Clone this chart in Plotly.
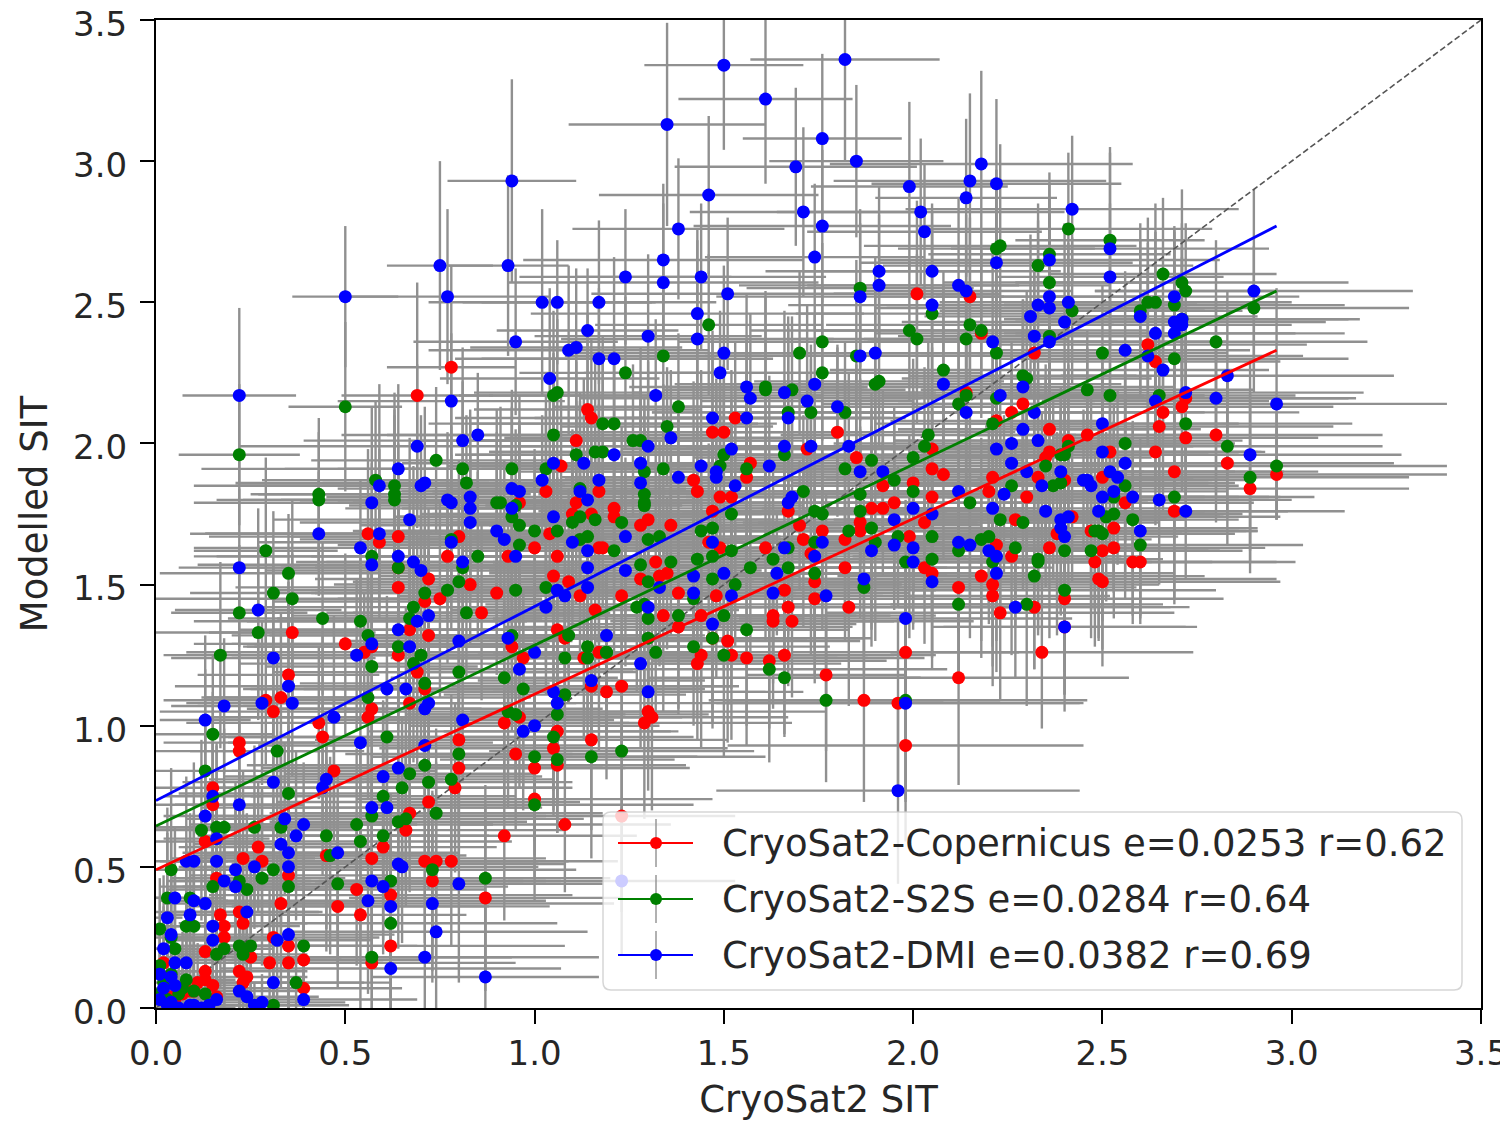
import plotly.graph_objects as go

x_red = [
0.56,0.59,0.64,0.80,0.77,0.64,0.96,1.04,1.00,0.93,
1.06,1.17,1.21,1.21,1.28,1.11,1.15,1.10,0.72,0.64,
0.83,0.90,0.75,0.71,0.86,1.05,1.09,1.12,1.16,1.23,
1.28,0.36,0.50,0.67,0.72,0.57,0.55,0.64,0.35,0.31,
0.33,0.29,0.69,0.71,0.67,0.57,0.56,0.44,0.43,0.94,
0.97,1.06,1.08,1.13,1.17,1.15,1.19,1.23,1.29,1.30,
0.92,0.96,1.06,1.05,1.15,0.95,1.00,1.06,0.22,0.22,
0.80,0.80,0.79,0.47,0.15,0.15,0.72,0.67,1.00,1.08,
0.92,0.66,0.60,0.57,0.13,0.27,0.23,0.28,0.45,0.71,
0.74,0.78,0.73,0.62,0.53,0.33,0.87,0.48,0.54,0.17,
0.18,0.23,0.35,0.16,0.22,0.18,0.13,0.25,0.31,0.35,
0.30,0.35,0.39,0.62,0.57,0.13,0.02,0.22,0.23,0.15,
0.10,0.07,0.39,0.04,0.24,1.23,1.53,1.47,1.50,1.80,
2.14,2.26,2.29,2.36,2.22,1.85,1.57,1.56,1.42,1.43,
1.49,1.52,1.47,1.67,1.72,2.05,2.05,2.08,1.92,2.00,
1.95,1.89,1.92,2.05,2.03,1.86,1.86,1.82,1.99,1.76,
1.71,1.70,1.61,1.49,1.46,1.36,1.30,1.18,1.32,1.35,
1.33,1.38,1.48,1.73,1.82,1.74,1.66,1.74,1.83,1.67,
1.63,1.63,1.68,1.34,1.44,1.38,1.51,1.47,1.52,1.44,
1.43,1.56,1.62,1.66,1.31,1.77,1.87,1.96,1.98,1.98,
2.12,2.34,2.40,2.12,2.18,2.21,2.21,2.23,2.32,2.40,
2.03,2.05,2.26,2.22,2.36,2.27,2.38,2.42,2.30,2.20,
2.21,2.36,2.35,2.33,2.41,2.46,2.40,2.49,2.48,2.62,
2.64,2.32,2.72,2.71,2.66,2.65,2.72,2.80,2.64,2.52,
2.83,2.50,2.69,2.96,2.89,2.56,2.69,2.53,2.47,2.50,
2.53,2.58,2.60,2.50,0.78,0.69,2.01,2.15,2.18,1.14,
1.15,1.11,1.07,1.17,1.03,0.06,0.09,0.11,0.13,0.03,
0.05,0.16]
y_red = [
1.68,1.65,1.67,1.67,1.60,1.56,1.79,1.68,1.63,1.60,
1.60,1.63,1.77,1.74,1.71,1.79,1.75,1.75,1.52,1.49,
1.50,1.47,1.45,1.44,1.40,1.53,1.51,1.46,1.41,1.46,
1.52,1.33,1.29,1.34,1.32,1.28,1.26,1.25,1.18,1.05,
1.10,1.09,1.19,1.13,1.08,1.06,1.03,0.96,1.01,1.28,
1.24,1.34,1.31,1.24,1.26,1.14,1.12,1.14,1.01,1.05,
1.01,1.03,0.98,0.92,0.95,0.90,0.85,0.86,0.94,0.91,
0.95,0.85,0.78,0.84,0.78,0.72,0.73,0.69,0.74,0.65,
0.61,0.63,0.57,0.53,0.59,0.57,0.53,0.52,0.54,0.52,
0.52,0.52,0.45,0.40,0.42,0.37,0.39,0.36,0.33,0.33,
0.29,0.30,0.47,0.46,0.34,0.25,0.20,0.18,0.25,0.22,
0.16,0.16,0.17,0.22,0.16,0.13,0.16,0.13,0.09,0.08,
0.06,0.05,0.07,0.04,0.11,0.68,2.09,2.04,2.04,2.04,
2.18,2.11,2.14,2.05,2.08,1.95,1.93,1.88,1.87,1.83,
1.81,1.81,1.76,1.76,1.98,1.98,1.91,1.89,1.85,1.86,
1.79,1.77,1.77,1.81,1.72,1.72,1.69,1.66,1.67,1.69,
1.66,1.71,1.63,1.63,1.65,1.71,1.73,1.63,1.58,1.54,
1.53,1.47,1.46,1.61,1.56,1.51,1.48,1.45,1.42,1.42,
1.39,1.37,1.37,1.39,1.39,1.35,1.30,1.31,1.25,1.25,
1.22,1.24,1.23,1.25,1.03,1.18,1.09,1.08,0.93,1.26,
1.17,1.26,1.35,1.49,1.53,1.50,1.46,1.40,1.42,1.45,
1.56,1.54,1.60,1.64,1.63,1.73,1.68,1.74,1.81,1.83,
1.88,1.97,1.95,1.88,2.01,2.03,1.87,1.52,1.58,2.35,
2.29,2.32,2.16,2.13,2.11,2.06,2.02,2.03,1.97,1.97,
1.93,1.88,1.90,1.89,1.84,1.79,1.76,1.70,1.69,1.62,
1.63,1.58,1.58,1.51,2.27,2.17,2.53,2.52,2.39,2.12,
2.09,2.01,1.92,1.83,1.83,0.07,0.06,0.09,0.10,0.11,
0.03,0.04]
xerr_red = [
0.47,0.32,0.50,0.44,0.36,0.41,0.48,0.38,0.44,0.30,
0.42,0.35,0.46,0.28,0.40,0.33,0.45,0.37,0.30,0.43,
0.36,0.48,0.27,0.40,0.34,0.46,0.31,0.42,0.38,0.29,
0.44,0.22,0.30,0.36,0.42,0.33,0.47,0.28,0.24,0.30,
0.21,0.27,0.38,0.32,0.44,0.29,0.41,0.25,0.35,0.46,
0.30,0.40,0.34,0.45,0.28,0.37,0.42,0.31,0.39,0.47,
0.33,0.43,0.30,0.46,0.36,0.28,0.41,0.34,0.20,0.25,
0.38,0.44,0.31,0.27,0.18,0.22,0.40,0.33,0.47,0.28,
0.35,0.42,0.30,0.46,0.15,0.21,0.19,0.24,0.32,0.38,
0.27,0.44,0.30,0.48,0.34,0.23,0.36,0.40,0.28,0.14,
0.20,0.17,0.26,0.12,0.22,0.16,0.10,0.24,0.28,0.19,
0.30,0.21,0.33,0.46,0.38,0.11,0.05,0.18,0.14,0.09,
0.07,0.05,0.26,0.03,0.16,0.30,0.29,0.42,0.36,0.47,
0.38,0.45,0.33,0.40,0.28,0.43,0.35,0.48,0.31,0.44,
0.27,0.39,0.46,0.34,0.41,0.30,0.45,0.37,0.42,0.32,
0.47,0.29,0.40,0.36,0.44,0.31,0.46,0.38,0.28,0.43,
0.35,0.48,0.30,0.41,0.37,0.45,0.33,0.28,0.42,0.47,
0.36,0.31,0.44,0.39,0.46,0.34,0.40,0.29,0.45,0.37,
0.43,0.32,0.48,0.41,0.30,0.46,0.35,0.42,0.28,0.44,
0.38,0.47,0.31,0.40,0.36,0.21,0.36,0.48,0.47,0.30,
0.45,0.40,0.32,0.47,0.38,0.44,0.31,0.46,0.36,0.42,
0.34,0.48,0.29,0.43,0.37,0.45,0.33,0.40,0.47,0.30,
0.44,0.36,0.28,0.41,0.46,0.34,0.38,0.47,0.31,0.42,
0.33,0.30,0.45,0.40,0.36,0.46,0.35,0.44,0.27,0.41,
0.44,0.33,0.38,0.45,0.42,0.34,0.30,0.38,0.26,0.31,
0.40,0.43,0.36,0.47,0.17,0.20,0.22,0.25,0.28,0.30,
0.36,0.41,0.30,0.44,0.38,0.05,0.06,0.07,0.08,0.03,
0.04,0.09]
yerr_red = [
0.30,0.24,0.33,0.27,0.22,0.35,0.29,0.25,0.32,0.21,
0.28,0.34,0.26,0.31,0.23,0.36,0.27,0.30,0.25,0.33,
0.21,0.29,0.35,0.24,0.31,0.27,0.33,0.22,0.30,0.36,
0.25,0.28,0.32,0.24,0.30,0.35,0.21,0.27,0.33,0.26,
0.30,0.23,0.34,0.28,0.21,0.31,0.25,0.36,0.27,0.30,
0.24,0.33,0.22,0.29,0.35,0.26,0.31,0.23,0.34,0.28,
0.30,0.25,0.36,0.22,0.32,0.27,0.31,0.24,0.29,0.35,
0.26,0.33,0.30,0.25,0.34,0.22,0.31,0.28,0.36,0.24,
0.30,0.27,0.33,0.35,0.28,0.23,0.31,0.26,0.34,0.29,
0.35,0.30,0.32,0.36,0.27,0.30,0.33,0.29,0.35,0.26,
0.31,0.28,0.34,0.30,0.27,0.32,0.25,0.29,0.34,0.30,
0.26,0.31,0.28,0.35,0.30,0.24,0.20,0.27,0.22,0.18,
0.16,0.14,0.25,0.12,0.20,0.34,0.27,0.34,0.24,0.30,
0.36,0.25,0.31,0.28,0.21,0.33,0.26,0.30,0.35,0.23,
0.29,0.34,0.22,0.31,0.27,0.36,0.25,0.30,0.21,0.33,
0.28,0.35,0.24,0.31,0.26,0.34,0.22,0.29,0.36,0.27,
0.31,0.23,0.33,0.28,0.35,0.25,0.30,0.21,0.34,0.27,
0.32,0.24,0.29,0.36,0.26,0.33,0.22,0.30,0.35,0.28,
0.24,0.31,0.27,0.34,0.22,0.29,0.36,0.25,0.30,0.33,
0.27,0.31,0.24,0.28,0.33,0.27,0.36,0.30,0.34,0.31,
0.38,0.27,0.24,0.33,0.29,0.36,0.25,0.31,0.22,0.34,
0.27,0.30,0.35,0.24,0.32,0.28,0.36,0.23,0.31,0.26,
0.33,0.21,0.29,0.35,0.27,0.31,0.25,0.22,0.30,0.36,
0.27,0.33,0.24,0.30,0.35,0.28,0.22,0.31,0.26,0.34,
0.29,0.36,0.24,0.16,0.30,0.27,0.33,0.22,0.28,0.35,
0.25,0.22,0.19,0.30,0.36,0.40,0.33,0.28,0.30,0.34,
0.28,0.31,0.26,0.33,0.29,0.12,0.10,0.14,0.16,0.15,
0.08,0.09]

x_green = [
0.63,0.43,0.90,0.95,0.94,0.96,1.00,1.06,1.10,1.12,
1.16,1.23,1.29,1.14,1.12,1.21,0.96,0.85,0.78,0.29,
0.35,0.31,0.36,0.22,0.27,0.44,0.17,0.57,0.64,0.81,
0.54,0.56,0.57,0.64,0.70,0.68,0.71,0.68,0.67,0.77,
0.80,0.82,0.95,1.03,0.94,0.80,0.71,0.56,0.92,1.08,
1.09,1.14,1.14,1.19,0.97,1.08,1.06,0.95,0.93,1.05,
1.00,1.06,1.15,1.23,1.29,1.30,1.28,0.61,0.80,0.71,
0.67,0.72,0.78,0.65,0.60,0.57,0.32,0.15,0.13,0.35,
0.74,0.53,0.45,0.54,0.64,0.66,0.60,1.00,0.33,0.26,
0.18,0.16,0.12,0.04,0.73,0.62,0.87,0.48,0.46,0.31,
0.28,0.15,0.22,0.35,0.24,0.03,0.09,0.08,0.10,0.62,
0.57,0.39,0.25,0.23,0.22,0.16,0.18,0.05,0.04,0.01,
0.37,0.13,0.07,0.01,0.31,1.38,1.61,1.68,1.73,1.67,
1.90,1.82,1.18,1.21,1.35,1.28,1.29,1.34,1.18,1.50,
1.49,1.56,1.66,1.29,1.29,2.14,2.12,2.21,2.46,2.04,
2.03,2.00,1.89,1.82,1.95,2.00,1.86,1.86,1.89,1.71,
1.52,1.76,1.74,1.83,1.90,1.96,2.05,1.30,1.33,1.44,
1.47,1.52,1.47,1.43,1.36,1.47,1.53,1.57,1.63,1.67,
1.67,1.74,1.74,2.05,1.98,2.12,2.18,2.20,2.21,2.15,
2.26,2.23,2.29,2.27,2.37,2.39,2.35,2.40,2.40,2.47,
2.49,2.33,2.33,2.32,2.40,2.30,2.12,1.87,1.50,1.56,
1.30,1.27,1.38,1.42,1.47,1.42,1.50,1.32,1.19,1.30,
1.62,1.66,1.77,1.98,2.41,2.52,2.36,2.33,2.36,2.23,
2.66,2.71,2.72,2.62,2.64,2.69,2.90,2.60,2.42,2.71,
2.36,2.80,2.50,2.69,2.29,2.52,2.65,2.72,2.56,2.83,
2.41,2.39,2.96,2.89,2.69,2.56,2.53,2.53,2.51,2.58,
2.48,2.50,2.60,0.50,1.46,1.34,1.70,1.76,1.24,1.76,
1.91,1.61,1.86,2.05,1.99,2.01,2.15,2.14,2.18,2.22,
2.08,2.22,2.30,1.06,1.85,2.22,0.22,0.58,0.63,0.63,
0.74,0.81,0.82,0.43,1.11,1.05,1.16,1.03,1.12,0.94,
0.91,1.05,1.26,0.02,0.04,0.06,0.03,0.08,0.10,0.01]
y_green = [
1.80,1.80,1.79,1.78,1.74,1.71,1.69,1.69,1.72,1.74,
1.73,1.72,1.79,1.67,1.66,1.62,1.64,1.60,1.66,1.62,
1.54,1.47,1.45,1.40,1.33,1.38,1.25,1.60,1.56,1.56,
1.37,1.32,1.21,1.28,1.25,1.22,1.47,1.42,1.38,1.48,
1.51,1.40,1.48,1.49,1.32,1.19,1.15,1.10,1.17,1.24,
1.32,1.28,1.24,1.26,1.13,1.11,1.04,1.04,1.05,0.96,
0.89,0.88,0.89,0.91,1.43,1.51,1.57,0.96,0.90,0.86,
0.83,0.80,0.81,0.78,0.75,0.68,0.91,0.97,0.84,0.76,
0.69,0.65,0.61,0.59,0.66,0.67,0.61,0.72,0.64,0.64,
0.64,0.64,0.63,0.49,0.49,0.45,0.46,0.44,0.54,0.49,
0.46,0.43,0.45,0.43,0.42,0.39,0.39,0.29,0.29,0.30,
0.18,0.22,0.22,0.19,0.22,0.19,0.21,0.21,0.25,0.28,
0.09,0.05,0.07,0.05,0.01,2.13,2.19,2.19,2.11,2.11,
2.21,2.11,2.07,2.07,2.06,2.01,1.90,1.91,1.97,1.96,
1.92,1.91,1.96,1.82,1.78,2.17,2.14,2.07,2.19,2.03,
1.99,1.95,1.94,1.91,1.87,1.83,1.82,1.76,1.70,1.83,
1.75,1.75,1.76,1.69,1.65,1.67,1.67,1.66,1.67,1.69,
1.70,1.62,1.60,1.59,1.58,1.52,1.50,1.56,1.59,1.63,
1.56,1.65,1.54,1.59,1.58,1.62,1.66,1.67,1.58,1.79,
1.85,1.73,1.72,1.63,1.85,1.86,1.92,1.96,1.62,1.62,
1.69,1.59,1.58,1.53,1.48,1.43,1.43,1.49,1.39,1.34,
1.38,1.42,1.39,1.45,1.31,1.28,1.25,1.26,1.26,1.31,
1.20,1.17,1.09,1.09,2.76,2.72,2.67,2.63,2.57,2.70,
2.60,2.57,2.54,2.50,2.50,2.49,2.48,2.47,2.47,2.44,
2.38,2.36,2.32,2.30,2.24,2.17,2.17,2.07,2.00,1.99,
1.99,1.96,1.92,1.88,1.81,1.85,1.81,1.75,1.74,1.73,
1.69,1.68,1.64,2.13,2.42,2.31,2.32,2.36,2.25,2.25,
2.22,2.20,2.55,2.46,2.40,2.37,2.42,2.37,2.40,2.32,
2.26,2.16,2.23,2.18,2.31,2.69,1.96,1.87,1.85,1.82,
1.94,1.91,1.86,1.82,1.96,2.03,1.97,1.91,1.84,1.91,
1.79,2.17,2.01,0.09,0.12,0.05,0.03,0.10,0.06,0.15]
xerr_green = [
0.47,0.20,0.38,0.44,0.30,0.42,0.35,0.46,0.28,0.40,
0.33,0.45,0.37,0.30,0.43,0.36,0.48,0.27,0.40,0.19,
0.34,0.22,0.42,0.18,0.29,0.25,0.15,0.47,0.31,0.39,
0.44,0.36,0.28,0.41,0.34,0.46,0.30,0.40,0.35,0.45,
0.28,0.37,0.42,0.31,0.39,0.47,0.33,0.43,0.30,0.46,
0.36,0.28,0.41,0.34,0.48,0.32,0.40,0.29,0.45,0.37,
0.43,0.31,0.46,0.35,0.42,0.28,0.39,0.44,0.30,0.47,
0.33,0.38,0.27,0.41,0.35,0.46,0.23,0.16,0.14,0.29,
0.44,0.36,0.30,0.40,0.34,0.47,0.28,0.42,0.21,0.26,
0.18,0.16,0.13,0.06,0.38,0.45,0.33,0.30,0.36,0.24,
0.22,0.14,0.19,0.28,0.21,0.04,0.09,0.08,0.10,0.44,
0.37,0.30,0.20,0.17,0.16,0.11,0.13,0.05,0.05,0.02,
0.25,0.09,0.06,0.02,0.20,0.33,0.27,0.30,0.42,0.36,
0.44,0.31,0.46,0.38,0.28,0.43,0.35,0.48,0.30,0.41,
0.37,0.45,0.33,0.28,0.42,0.47,0.36,0.31,0.44,0.39,
0.46,0.34,0.40,0.29,0.45,0.37,0.43,0.32,0.48,0.41,
0.30,0.46,0.35,0.42,0.28,0.44,0.38,0.47,0.31,0.40,
0.36,0.45,0.33,0.28,0.47,0.38,0.44,0.31,0.46,0.36,
0.42,0.34,0.48,0.29,0.43,0.37,0.45,0.33,0.40,0.47,
0.30,0.44,0.36,0.28,0.41,0.46,0.34,0.38,0.47,0.31,
0.42,0.33,0.30,0.45,0.40,0.36,0.46,0.35,0.44,0.27,
0.41,0.33,0.47,0.31,0.40,0.36,0.45,0.33,0.28,0.42,
0.47,0.36,0.31,0.48,0.38,0.25,0.32,0.41,0.28,0.36,
0.30,0.44,0.24,0.38,0.32,0.45,0.41,0.27,0.35,0.47,
0.28,0.40,0.33,0.46,0.30,0.25,0.36,0.44,0.29,0.41,
0.33,0.47,0.45,0.42,0.37,0.30,0.44,0.34,0.46,0.28,
0.40,0.35,0.43,0.15,0.30,0.26,0.34,0.38,0.28,0.42,
0.33,0.27,0.30,0.36,0.42,0.31,0.38,0.27,0.44,0.35,
0.30,0.40,0.33,0.22,0.37,0.26,0.16,0.30,0.42,0.36,
0.33,0.47,0.38,0.18,0.32,0.44,0.28,0.40,0.35,0.46,
0.30,0.25,0.41,0.03,0.04,0.05,0.03,0.07,0.08,0.02]
yerr_green = [
0.30,0.24,0.33,0.27,0.22,0.35,0.29,0.25,0.32,0.21,
0.28,0.34,0.26,0.31,0.23,0.36,0.27,0.30,0.25,0.33,
0.21,0.29,0.35,0.24,0.31,0.27,0.33,0.22,0.30,0.36,
0.25,0.28,0.32,0.24,0.30,0.35,0.21,0.27,0.33,0.26,
0.30,0.23,0.34,0.28,0.21,0.31,0.25,0.36,0.27,0.30,
0.24,0.33,0.22,0.29,0.35,0.26,0.31,0.23,0.34,0.28,
0.30,0.25,0.36,0.22,0.32,0.27,0.31,0.24,0.29,0.35,
0.26,0.33,0.30,0.25,0.34,0.22,0.31,0.28,0.36,0.24,
0.30,0.27,0.33,0.35,0.28,0.23,0.31,0.26,0.34,0.29,
0.35,0.30,0.32,0.36,0.27,0.30,0.33,0.29,0.35,0.26,
0.31,0.28,0.34,0.30,0.27,0.32,0.25,0.29,0.24,0.30,
0.26,0.31,0.28,0.25,0.30,0.24,0.20,0.27,0.22,0.18,
0.16,0.14,0.20,0.12,0.10,0.26,0.33,0.26,0.24,0.30,
0.36,0.25,0.31,0.28,0.21,0.33,0.26,0.30,0.35,0.23,
0.29,0.34,0.22,0.31,0.27,0.36,0.25,0.30,0.21,0.33,
0.28,0.35,0.24,0.31,0.26,0.34,0.22,0.29,0.36,0.27,
0.31,0.23,0.33,0.28,0.35,0.25,0.30,0.21,0.34,0.27,
0.32,0.24,0.29,0.36,0.26,0.33,0.22,0.30,0.35,0.28,
0.24,0.31,0.27,0.34,0.22,0.29,0.36,0.25,0.30,0.33,
0.27,0.31,0.24,0.28,0.33,0.27,0.36,0.30,0.34,0.31,
0.38,0.27,0.24,0.33,0.29,0.36,0.25,0.31,0.22,0.34,
0.27,0.30,0.35,0.24,0.32,0.28,0.36,0.23,0.31,0.26,
0.33,0.21,0.29,0.35,0.27,0.31,0.25,0.22,0.30,0.36,
0.27,0.33,0.24,0.30,0.35,0.28,0.22,0.31,0.26,0.34,
0.29,0.36,0.24,0.30,0.27,0.33,0.22,0.28,0.35,0.25,
0.31,0.22,0.19,0.30,0.36,0.40,0.33,0.28,0.30,0.34,
0.28,0.31,0.26,0.30,0.25,0.33,0.29,0.35,0.27,0.31,
0.23,0.34,0.28,0.36,0.25,0.30,0.21,0.33,0.27,0.29,
0.35,0.24,0.31,0.26,0.34,0.22,0.25,0.28,0.33,0.30,
0.26,0.31,0.24,0.27,0.33,0.29,0.35,0.26,0.31,0.28,
0.34,0.30,0.27,0.10,0.14,0.08,0.06,0.12,0.09,0.15]

x_blue = [
1.50,1.82,1.61,1.35,1.76,1.69,1.85,0.94,1.46,1.71,
1.76,1.38,1.99,2.02,2.03,2.15,2.14,2.18,2.22,2.42,
1.74,1.34,0.93,0.75,1.44,1.24,1.34,1.91,1.91,0.77,
0.50,1.51,1.02,1.06,1.17,1.43,2.05,2.12,2.14,2.22,
2.52,2.52,2.36,2.69,2.90,2.05,2.33,2.36,2.36,2.41,
2.31,2.40,2.32,2.36,2.60,2.69,2.71,2.71,2.64,2.69,
2.56,2.62,2.66,2.83,2.80,2.72,2.64,2.96,2.50,2.50,
2.56,2.89,2.46,2.52,2.54,2.53,2.50,2.58,2.65,2.72,
2.60,1.14,1.30,1.43,0.95,1.50,1.86,1.90,1.11,1.09,
1.17,1.21,1.49,1.04,1.32,0.22,0.78,1.66,2.21,1.86,
1.56,1.57,1.74,1.72,1.80,1.47,1.56,1.67,1.36,1.30,
1.28,1.28,1.21,1.52,1.66,1.73,1.83,1.44,1.48,1.48,
1.38,1.62,1.53,1.67,1.68,1.86,1.92,2.08,2.23,2.29,
2.14,2.32,2.29,2.22,2.26,2.33,2.26,2.30,2.39,2.34,
2.12,2.24,2.21,2.00,1.95,2.05,2.35,2.39,2.41,2.39,
2.40,2.45,2.47,2.49,2.12,2.15,2.20,2.22,2.22,1.95,
2.00,1.89,2.00,2.05,1.87,1.77,2.27,2.40,1.98,1.96,
1.98,1.24,1.47,1.66,1.76,1.74,1.24,1.64,1.50,1.42,
1.33,1.42,1.63,1.52,1.30,1.47,1.19,1.28,1.30,1.23,
0.57,0.78,0.83,0.83,0.67,0.94,1.05,1.14,0.43,0.59,
0.90,0.92,0.54,0.78,0.64,0.68,0.70,0.81,0.57,0.95,
1.10,1.14,1.14,0.22,0.27,0.31,0.35,0.36,0.28,0.18,
0.13,0.64,0.72,0.69,0.80,0.93,0.57,0.53,0.67,1.06,
1.08,1.03,1.14,1.00,0.96,0.61,0.66,0.47,0.71,0.72,
0.81,0.54,0.71,1.15,1.05,1.06,1.00,0.97,0.64,0.45,
0.44,0.60,0.31,0.15,0.22,0.13,0.34,0.61,0.57,0.39,
0.37,0.33,0.35,0.16,0.16,0.08,0.10,0.48,0.26,0.21,
0.35,0.18,0.21,0.57,0.60,0.64,0.65,0.56,0.62,0.73,
0.80,0.05,0.10,0.13,0.24,0.03,0.09,0.15,0.04,0.15,
0.32,0.35,0.74,0.71,0.02,0.05,0.08,0.62,0.87,0.04,
0.01,0.31,0.22,0.24,0.16,0.39,0.10,0.04,0.64,0.70,
0.71,0.81,0.85,0.69,0.59,0.77,0.83,0.94,0.96,1.05,
1.13,1.02,1.12,1.17,0.03,0.06,0.09,0.12,0.14,0.05,
0.01,0.02,0.26,0.28]
y_blue = [
3.34,3.36,3.22,3.13,3.08,2.98,3.00,2.93,2.88,2.82,
2.77,2.76,2.91,2.82,2.75,2.93,2.87,2.99,2.92,2.83,
2.66,2.65,2.63,2.63,2.59,2.59,2.57,2.61,2.56,2.52,
2.52,2.53,2.50,2.50,2.50,2.46,2.61,2.56,2.54,2.64,
2.69,2.59,2.65,2.52,2.54,2.49,2.49,2.52,2.48,2.50,
2.45,2.43,2.38,2.36,2.45,2.43,2.44,2.42,2.39,2.39,
2.33,2.31,2.26,2.24,2.16,2.18,2.15,2.14,2.07,1.97,
1.93,1.96,1.87,1.90,1.88,1.83,1.81,1.81,1.80,1.76,
1.69,2.40,2.38,2.37,2.36,2.32,2.31,2.32,2.34,2.33,
2.30,2.30,2.25,2.23,2.17,2.17,2.15,2.18,2.36,2.52,
2.20,2.16,2.21,2.15,2.13,2.09,2.09,2.09,2.02,1.99,
1.93,1.86,1.96,1.98,1.99,1.99,1.99,1.92,1.90,1.88,
1.88,1.92,1.85,1.79,1.81,1.90,1.90,2.21,2.17,2.20,
2.11,2.11,2.05,1.98,2.00,2.01,1.93,1.90,1.90,1.85,
1.83,1.82,1.77,1.77,1.73,1.75,1.76,1.73,1.74,1.70,
1.67,1.87,1.85,1.76,1.65,1.64,1.62,1.60,1.54,1.64,
1.63,1.62,1.58,1.51,1.52,1.46,1.42,1.35,1.38,0.77,
1.08,1.67,1.65,1.63,1.65,1.60,1.55,1.54,1.54,1.53,
1.49,1.47,1.47,1.46,1.42,1.36,1.32,1.22,1.12,0.45,
1.79,1.79,1.77,1.72,1.73,1.77,1.74,1.80,1.68,1.68,
1.69,1.66,1.63,1.65,1.60,1.58,1.55,1.58,1.57,1.60,
1.65,1.62,1.56,1.56,1.41,1.24,1.14,1.08,1.08,1.07,
1.02,1.34,1.39,1.37,1.30,1.31,1.29,1.25,1.28,1.48,
1.46,1.42,1.49,1.26,1.20,1.13,1.13,1.03,1.06,1.08,
1.02,0.94,0.93,1.16,1.12,1.08,1.00,0.98,0.85,0.81,
0.78,0.82,0.80,0.75,0.72,0.68,0.67,0.71,0.71,0.65,
0.61,0.58,0.55,0.60,0.52,0.52,0.52,0.55,0.50,0.49,
0.50,0.45,0.43,0.45,0.43,0.51,0.50,0.38,0.36,0.37,
0.44,0.39,0.38,0.37,0.34,0.32,0.33,0.29,0.26,0.24,
0.24,0.26,0.27,0.18,0.21,0.16,0.16,0.14,0.11,0.11,
0.12,0.09,0.06,0.04,0.03,0.03,0.01,0.02,1.91,1.85,
1.86,2.01,2.03,1.99,1.85,1.80,1.81,1.84,1.83,1.93,
1.93,1.87,1.83,1.87,0.01,0.00,0.01,0.00,0.01,0.08,
0.03,0.07,0.01,0.02]
xerr_blue = [
0.21,0.25,0.23,0.26,0.21,0.32,0.23,0.17,0.29,0.30,
0.34,0.28,0.26,0.38,0.31,0.36,0.24,0.40,0.33,0.44,
0.29,0.37,0.16,0.14,0.33,0.28,0.41,0.30,0.37,0.27,
0.14,0.36,0.30,0.25,0.31,0.44,0.34,0.40,0.28,0.36,
0.42,0.30,0.45,0.33,0.42,0.38,0.40,0.30,0.46,0.34,
0.28,0.43,0.36,0.47,0.31,0.40,0.44,0.29,0.37,0.45,
0.33,0.41,0.28,0.44,0.35,0.47,0.30,0.45,0.36,0.42,
0.29,0.40,0.33,0.46,0.37,0.30,0.44,0.28,0.35,0.42,
0.31,0.24,0.30,0.36,0.27,0.41,0.33,0.45,0.28,0.37,
0.31,0.42,0.36,0.29,0.44,0.15,0.30,0.40,0.33,0.38,
0.31,0.45,0.37,0.28,0.42,0.47,0.36,0.31,0.44,0.39,
0.46,0.34,0.40,0.29,0.45,0.37,0.43,0.32,0.48,0.41,
0.30,0.46,0.35,0.42,0.28,0.44,0.38,0.47,0.31,0.40,
0.36,0.45,0.33,0.28,0.47,0.38,0.44,0.31,0.46,0.36,
0.42,0.34,0.48,0.29,0.43,0.37,0.45,0.33,0.40,0.47,
0.30,0.44,0.36,0.28,0.41,0.46,0.34,0.38,0.47,0.31,
0.42,0.33,0.30,0.45,0.40,0.36,0.46,0.35,0.44,0.48,
0.47,0.41,0.33,0.47,0.31,0.40,0.36,0.45,0.33,0.28,
0.42,0.47,0.36,0.31,0.48,0.38,0.25,0.32,0.41,0.30,
0.47,0.40,0.33,0.45,0.36,0.29,0.42,0.34,0.30,0.46,
0.38,0.27,0.44,0.35,0.48,0.31,0.41,0.36,0.46,0.28,
0.43,0.33,0.39,0.16,0.22,0.27,0.30,0.25,0.20,0.14,
0.12,0.42,0.36,0.45,0.30,0.38,0.47,0.33,0.41,0.28,
0.44,0.35,0.40,0.46,0.30,0.36,0.43,0.33,0.47,0.28,
0.40,0.35,0.44,0.30,0.38,0.46,0.33,0.41,0.36,0.31,
0.28,0.42,0.24,0.13,0.17,0.11,0.26,0.38,0.45,0.30,
0.26,0.23,0.28,0.14,0.12,0.08,0.09,0.32,0.20,0.16,
0.27,0.14,0.17,0.40,0.33,0.44,0.36,0.47,0.42,0.48,
0.38,0.05,0.09,0.11,0.19,0.04,0.08,0.12,0.05,0.12,
0.25,0.28,0.40,0.46,0.02,0.05,0.07,0.45,0.30,0.04,
0.02,0.24,0.17,0.19,0.13,0.30,0.08,0.04,0.52,0.48,
0.50,0.42,0.36,0.47,0.49,0.44,0.38,0.46,0.33,0.40,
0.31,0.45,0.36,0.42,0.03,0.05,0.07,0.09,0.10,0.04,
0.01,0.02,0.20,0.22]
yerr_blue = [
0.30,0.36,0.30,0.36,0.30,0.28,0.27,0.36,0.28,0.30,
0.27,0.25,0.30,0.26,0.24,0.31,0.28,0.33,0.30,0.26,
0.26,0.27,0.32,0.37,0.26,0.24,0.28,0.30,0.25,0.31,
0.25,0.27,0.33,0.22,0.29,0.30,0.24,0.31,0.27,0.33,
0.36,0.26,0.31,0.23,0.36,0.27,0.30,0.25,0.33,0.21,
0.29,0.35,0.24,0.31,0.27,0.33,0.22,0.30,0.36,0.25,
0.28,0.32,0.24,0.30,0.35,0.21,0.27,0.41,0.26,0.30,
0.23,0.34,0.28,0.21,0.31,0.25,0.36,0.27,0.30,0.24,
0.33,0.22,0.29,0.35,0.26,0.31,0.23,0.34,0.28,0.30,
0.25,0.36,0.22,0.32,0.27,0.31,0.24,0.29,0.35,0.26,
0.33,0.30,0.25,0.34,0.22,0.31,0.28,0.36,0.24,0.30,
0.27,0.33,0.35,0.28,0.23,0.31,0.26,0.34,0.29,0.35,
0.30,0.32,0.36,0.27,0.30,0.33,0.29,0.35,0.26,0.31,
0.28,0.34,0.30,0.27,0.32,0.25,0.29,0.34,0.30,0.26,
0.31,0.28,0.35,0.30,0.24,0.36,0.27,0.34,0.24,0.30,
0.36,0.25,0.31,0.28,0.21,0.33,0.26,0.30,0.35,0.23,
0.29,0.34,0.22,0.31,0.27,0.36,0.25,0.30,0.21,0.33,
0.35,0.28,0.35,0.24,0.31,0.26,0.34,0.22,0.29,0.36,
0.27,0.31,0.23,0.33,0.28,0.35,0.25,0.30,0.21,0.26,
0.34,0.27,0.32,0.24,0.29,0.36,0.26,0.33,0.22,0.30,
0.35,0.28,0.24,0.31,0.27,0.34,0.22,0.29,0.36,0.25,
0.30,0.33,0.27,0.28,0.36,0.33,0.31,0.26,0.29,0.24,
0.30,0.33,0.27,0.31,0.24,0.28,0.33,0.27,0.36,0.30,
0.34,0.31,0.38,0.27,0.24,0.33,0.29,0.36,0.25,0.31,
0.22,0.34,0.27,0.30,0.35,0.24,0.32,0.28,0.36,0.23,
0.31,0.26,0.33,0.21,0.29,0.35,0.27,0.31,0.25,0.22,
0.30,0.36,0.27,0.33,0.24,0.30,0.35,0.28,0.22,0.31,
0.26,0.34,0.29,0.36,0.24,0.30,0.27,0.33,0.22,0.28,
0.35,0.25,0.31,0.22,0.19,0.30,0.36,0.27,0.33,0.28,
0.30,0.34,0.28,0.31,0.26,0.30,0.25,0.33,0.29,0.22,
0.27,0.31,0.23,0.18,0.28,0.36,0.15,0.12,0.30,0.25,
0.27,0.33,0.22,0.29,0.36,0.24,0.31,0.28,0.34,0.26,
0.30,0.23,0.35,0.27,0.05,0.04,0.06,0.05,0.07,0.10,
0.06,0.09,0.08,0.10]

fit_x = [0.0, 2.96]
fit_red = [0.49, 2.33]
fit_green = [0.645, 2.54]
fit_blue = [0.735, 2.77]
diag = [0.0, 3.5]
tick_vals = [0.0, 0.5, 1.0, 1.5, 2.0, 2.5, 3.0, 3.5]
tick_text = ["0.0", "0.5", "1.0", "1.5", "2.0", "2.5", "3.0", "3.5"]
legend_labels = ["CryoSat2-Copernicus e=0.0253 r=0.62",
                 "CryoSat2-S2S e=0.0284 r=0.64",
                 "CryoSat2-DMI e=0.0382 r=0.69"]
colors = ["#ff0000", "#008000", "#0000ff"]
GREY = "#909090"
TEXT = "#262626"
FONT = "DejaVu Sans"

series = [
    (x_red, y_red, xerr_red, yerr_red),
    (x_green, y_green, xerr_green, yerr_green),
    (x_blue, y_blue, xerr_blue, yerr_blue),
]

fig = go.Figure()

# whiskers first, so that every dot sits above every grey bar
for xs, ys, ex, ey in series:
    fig.add_trace(go.Scatter(
        x=xs, y=ys, mode="markers", showlegend=False, hoverinfo="skip",
        marker=dict(size=2, opacity=0),
        error_x=dict(type="data", array=ex, color=GREY, thickness=2.4, width=0),
        error_y=dict(type="data", array=ey, color=GREY, thickness=2.4, width=0),
    ))

fig.add_trace(go.Scatter(x=diag, y=diag, mode="lines", showlegend=False,
                         line=dict(color="#555555", width=1.6, dash="6px,3px")))

for (xs, ys, _, _), c, label in zip(series, colors, legend_labels):
    fig.add_trace(go.Scatter(x=xs, y=ys, mode="markers", name=label, showlegend=False,
                             marker=dict(size=13, color=c, line=dict(width=0))))

for fy, c in zip([fit_red, fit_green, fit_blue], colors):
    fig.add_trace(go.Scatter(x=fit_x, y=fy, mode="lines", showlegend=False,
                             line=dict(color=c, width=2.8)))

# The page has an 8 px body margin, so the frame is offset by it here.
W, H = 1508, 1124
PAGE_L, PAGE_T, PW, PH = 156, 20, 1325, 988
L, T = PAGE_L - 8, PAGE_T - 8
R, B = W - L - PW, H - T - PH
def px(v): return (v - PAGE_L) / PW
def py(v): return 1 - (v - PAGE_T) / PH

shapes = []
x0, x1, y0, y1, r = px(603), px(1462), py(812), py(990), 8 / PW
ry = 8 / PH
shapes.append(dict(
    type="path", xref="paper", yref="paper", layer="above",
    path=(f"M {x0+r},{y0} L {x1-r},{y0} Q {x1},{y0} {x1},{y0-ry} L {x1},{y1+ry} Q {x1},{y1} {x1-r},{y1} "
          f"L {x0+r},{y1} Q {x0},{y1} {x0},{y1+ry} L {x0},{y0-ry} Q {x0},{y0} {x0+r},{y0} Z"),
    fillcolor="rgba(255,255,255,0.8)", line=dict(color="rgba(204,204,204,0.8)", width=1.5)))

annotations = []
for row_y, c, label in zip([843, 899, 955], colors, legend_labels):
    shapes.append(dict(type="line", xref="paper", yref="paper", layer="above",
                       x0=px(656), x1=px(656), y0=py(row_y - 24), y1=py(row_y + 24),
                       line=dict(color=GREY, width=1.4)))
    shapes.append(dict(type="line", xref="paper", yref="paper", layer="above",
                       x0=px(618), x1=px(693), y0=py(row_y), y1=py(row_y),
                       line=dict(color=c, width=1.8)))
    shapes.append(dict(type="circle", xref="paper", yref="paper", layer="above",
                       x0=px(650), x1=px(662), y0=py(row_y + 6), y1=py(row_y - 6),
                       fillcolor=c, line=dict(color=c, width=0)))
    annotations.append(dict(xref="paper", yref="paper", x=px(719.5), y=py(row_y), text=label,
                            showarrow=False, xanchor="left", yanchor="middle",
                            font=dict(family=FONT, size=37, color=TEXT)))

axis = dict(range=[0, 3.5], tickmode="array", tickvals=tick_vals, ticktext=tick_text,
            showgrid=False, zeroline=False, showline=True, mirror=True, automargin=False,
            linecolor="black", linewidth=2, ticks="outside", ticklen=14, tickwidth=2,
            tickcolor="black", ticklabeloverflow="allow",
            tickfont=dict(family=FONT, size=34, color=TEXT))

fig.update_layout(
    width=W, height=H, autosize=False,
    margin=dict(l=L, r=R, t=T, b=B),
    paper_bgcolor="white", plot_bgcolor="white", showlegend=False,
    xaxis=dict(axis, title=dict(text="CryoSat2 SIT", standoff=14,
                                font=dict(family=FONT, size=37, color=TEXT))),
    yaxis=dict(axis, ticklabelstandoff=6, ticklabelshift=4,
               title=dict(text="Modelled SIT", standoff=14,
                          font=dict(family=FONT, size=37, color=TEXT))),
    shapes=shapes, annotations=annotations,
)
fig.write_html("out.html")
